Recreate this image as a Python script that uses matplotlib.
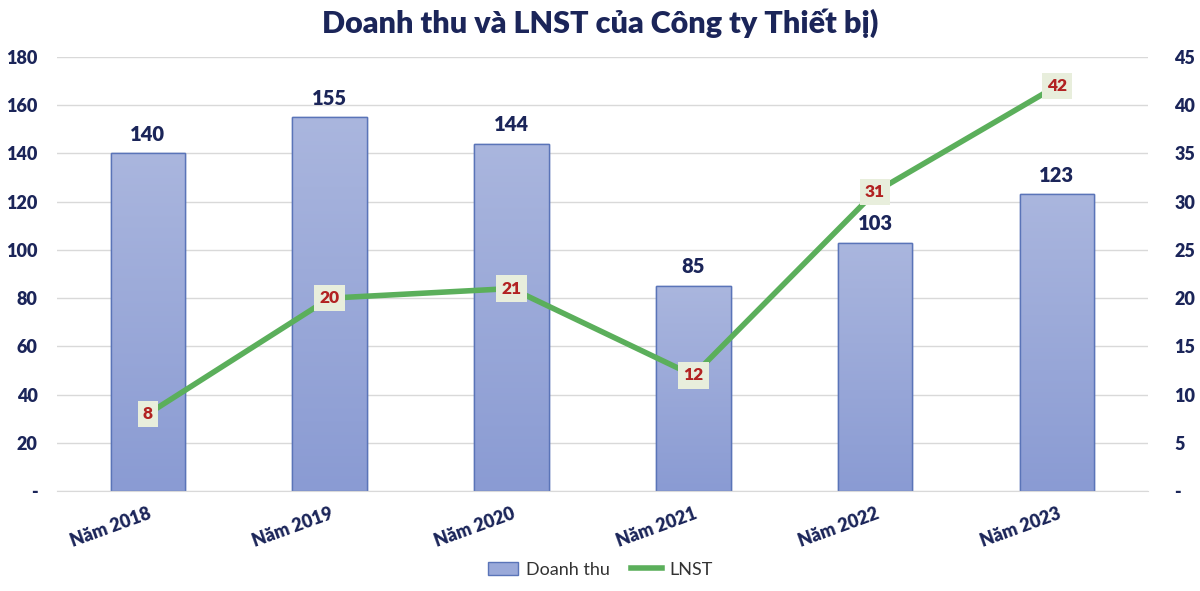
import matplotlib
matplotlib.use("Agg")
import matplotlib.pyplot as plt
import numpy as np
from matplotlib.colors import LinearSegmentedColormap
from matplotlib.patches import Patch
from matplotlib.lines import Line2D

categories = ["Năm 2018", "Năm 2019", "Năm 2020", "Năm 2021", "Năm 2022", "Năm 2023"]
doanh_thu = [140, 155, 144, 85, 103, 123]
lnst = [8, 20, 21, 12, 31, 42]
left_ticks = [0, 20, 40, 60, 80, 100, 120, 140, 160, 180]
left_labels = ["-", "20", "40", "60", "80", "100", "120", "140", "160", "180"]
right_ticks = [0, 5, 10, 15, 20, 25, 30, 35, 40, 45]
right_labels = ["-", "5", "10", "15", "20", "25", "30", "35", "40", "45"]

plt.rcParams['font.family'] = ['Lato', 'DejaVu Sans']
navy = "#1B2559"
W = "heavy"
fig = plt.figure(figsize=(12, 5.91), dpi=100)
ax = fig.add_axes([0.0475, 0.169, 0.909, 0.7346])
ax2 = ax.twinx()

x = np.arange(len(categories))
bars = ax.bar(x, doanh_thu, width=0.41, color="#9AA9D9", edgecolor="#5A74B8", linewidth=1.0, zorder=2)
cmap = LinearSegmentedColormap.from_list("g", ["#8A9BD3", "#AAB6DE"])
grad = np.linspace(0, 1, 256).reshape(-1, 1)
for b in bars:
    bx, by = b.get_x(), b.get_y()
    w, h = b.get_width(), b.get_height()
    im = ax.imshow(grad, extent=[bx, bx + w, by, by + h], origin="lower", cmap=cmap,
                   aspect="auto", zorder=2.1)
    im.set_clip_path(b)
    ax.bar(bx + w / 2, h, width=w, fill=False, edgecolor="#5A74B8", linewidth=1.0, zorder=2.2)
    ax.text(bx + w / 2, by + h + 4, f"{h:.0f}", ha="center", va="bottom",
            fontsize=14.5, fontweight=W, color=navy, zorder=3)

ax.set_xlim(-0.5, len(categories) - 0.5)
ax.set_ylim(0, 180)
ax.set_yticks(left_ticks)
ax.set_yticklabels(left_labels)
ax.grid(axis="y", color="#D9D9D9", linewidth=1.0, zorder=0)
ax.set_axisbelow(True)
for s in ax.spines.values():
    s.set_visible(False)
for s in ax2.spines.values():
    s.set_visible(False)
ax.spines["bottom"].set_visible(True)
ax.spines["bottom"].set_color("#D9D9D9")
ax.tick_params(axis="y", length=0, labelsize=13, labelcolor=navy, pad=14)
ax.tick_params(axis="x", length=0, labelsize=13, labelcolor=navy, pad=10)
ax.set_xticks(x)
ax.set_xticklabels(categories, rotation=20, ha="right", rotation_mode="anchor", fontweight=W)
for t in ax.get_yticklabels():
    t.set_fontweight(W)

ax2.plot(x, lnst, color="#5BAF5B", linewidth=4, zorder=4, solid_capstyle="round")
ax2.set_ylim(0, 45)
ax2.set_yticks(right_ticks)
ax2.set_yticklabels(right_labels)
ax2.tick_params(axis="y", length=0, labelsize=13, labelcolor=navy, pad=19)
for t in ax2.get_yticklabels():
    t.set_fontweight(W)
    t.set_ha("left")
for xi, v in zip(x, lnst):
    ax2.text(xi, v, f"{v}", ha="center", va="center", fontsize=12.5, fontweight=W,
             color="#B22222", zorder=5,
             bbox=dict(boxstyle="square,pad=0.3", facecolor="#E8EEDC", edgecolor="none"))

ax.set_zorder(1)
ax2.set_zorder(2)
ax2.patch.set_visible(False)

fig.suptitle("Doanh thu và LNST của Công ty Thiết bị)", y=0.985, fontsize=22,
             fontweight=W, color=navy)

handles = [Patch(facecolor="#9AA9D9", edgecolor="#5A74B8", label="Doanh thu"),
           Line2D([0], [0], color="#5BAF5B", linewidth=4, label="LNST")]
fig.legend(handles=handles, loc="lower center", bbox_to_anchor=(0.5, -0.005), ncol=2,
           frameon=False, fontsize=13, handlelength=1.7, handletextpad=0.4,
           columnspacing=1.2, labelcolor="#333333")

fig.savefig("out.png", dpi=100)
